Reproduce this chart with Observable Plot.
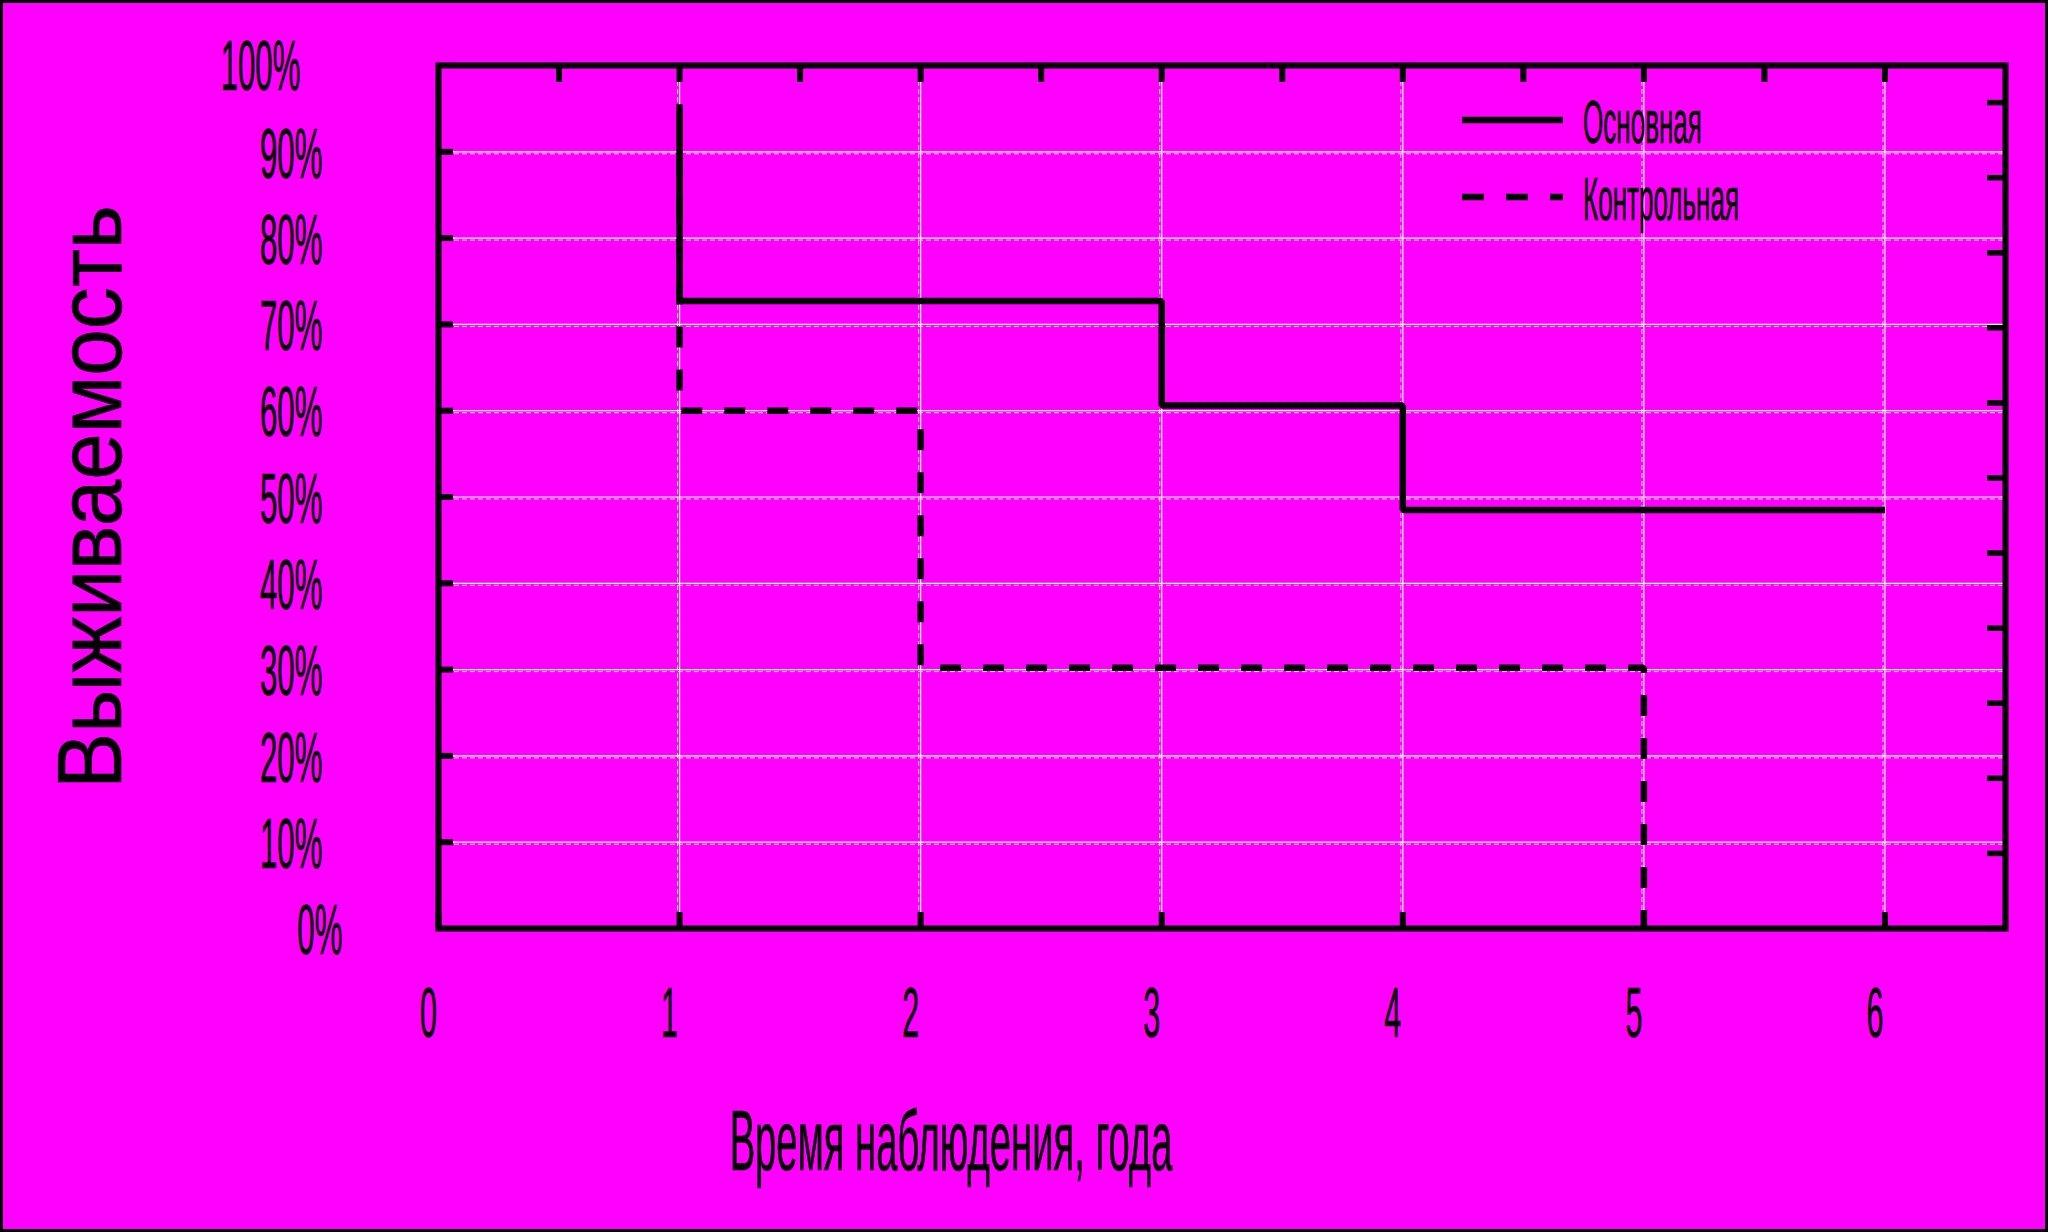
<!DOCTYPE html>
<html>
<head>
<meta charset="utf-8">
<script src="https://cdn.jsdelivr.net/npm/d3@7"></script>
<script src="https://cdn.jsdelivr.net/npm/@observablehq/plot@0.6"></script>
<style>
  html, body { margin: 0; padding: 0; background: #ff00ff; }
  #wrap { position: relative; width: 2048px; height: 1232px; overflow: hidden; }
  #wrap > svg.chart { display: block; outline: 3px solid #000; outline-offset: -3px; }
  #legend { position: absolute; left: 1450px; top: 80px; overflow: visible; }
</style>
</head>
<body>
<div id="wrap"></div>
<script>
// ---- data ----
const seriesNames = ["Основная", "Контрольная"];
const mainTime = [1, 1, 3, 4, 6];
const mainSurvival = [0.955, 0.727, 0.606, 0.485, 0.485];
const controlTime = [1, 1, 2, 5];
const controlSurvival = [0.897, 0.600, 0.302, 0.0];
const xTicks = [0, 1, 2, 3, 4, 5, 6];
const xTopTicks = [0.5, 1, 1.5, 2, 2.5, 3, 3.5, 4, 4.5, 5, 5.5, 6];
const xGrid = [1, 2, 3, 4, 5, 6];
const yTicks = [0, 0.1, 0.2, 0.3, 0.4, 0.5, 0.6, 0.7, 0.8, 0.9, 1];
const yGrid = [0.1, 0.2, 0.3, 0.4, 0.5, 0.6, 0.7, 0.8, 0.9];
const yRightTicks = [0, 0.087, 0.174, 0.261, 0.348, 0.435, 0.522, 0.609, 0.696, 0.783, 0.870, 0.957];
const xLabel = "Время наблюдения, года";
const yLabel = "Выживаемость";

const mainData = mainTime.map((t, i) => ({t, s: mainSurvival[i]}));
const controlData = controlTime.map((t, i) => ({t, s: controlSurvival[i]}));

const W = 2048, H = 1232, mL = 438, mR = 43, mT = 65, mB = 304;
const pw = W - mL - mR, ph = H - mT - mB;
const fmt = d3.format(".0%");
const font = "'Liberation Sans', Arial, sans-serif";

const chart = Plot.plot({
  width: W, height: H,
  marginLeft: mL, marginRight: mR, marginTop: mT, marginBottom: mB,
  x: {domain: [0, 6.5]},
  y: {domain: [0, 1]},
  style: {background: "#ff00ff", fontFamily: font, color: "black", overflow: "visible"},
  marks: [
    Plot.ruleX(xGrid, {stroke: "#d8d8d8", strokeWidth: 1, strokeDasharray: "5,3", dx: -2}),
    Plot.ruleX(xGrid, {stroke: "white", strokeWidth: 1.2}),
    Plot.ruleY(yGrid, {stroke: "#d8d8d8", strokeWidth: 1, strokeDasharray: "5,3", dy: 2}),
    Plot.ruleY(yGrid, {stroke: "white", strokeWidth: 1.2}),
    Plot.tickX(xTopTicks, {x: d => d, stroke: "black", strokeWidth: 6, insetBottom: ph - 17}),
    Plot.tickX(xTicks, {x: d => d, stroke: "black", strokeWidth: 6, insetTop: ph - 16}),
    Plot.tickY(yGrid, {y: d => d, stroke: "black", strokeWidth: 6, insetRight: pw - 15}),
    Plot.tickY(yRightTicks, {y: d => d, stroke: "black", strokeWidth: 5.5, insetLeft: pw - 18}),
    Plot.line(mainData, {x: "t", y: "s", curve: "step-after", stroke: "black", strokeWidth: 6.5, strokeLinejoin: "miter", strokeLinecap: "butt"}),
    Plot.line(controlData, {x: "t", y: "s", curve: "step-after", stroke: "black", strokeWidth: 6.5, strokeDasharray: "21,22", strokeLinejoin: "miter", strokeLinecap: "butt"}),
    Plot.frame({stroke: "black", strokeWidth: 6}),
    Plot.axisX(xTicks, {anchor: "bottom", tickSize: 0, tickPadding: 58, fontSize: 71, dx: -10, label: null, tickFormat: d => String(d)}),
    Plot.axisY(yTicks.filter(v => v > 0 && v < 1), {anchor: "left", tickSize: 0, tickPadding: 116, fontSize: 71, dy: 3, label: null, tickFormat: fmt}),
    Plot.axisY(yTicks.filter(v => v === 1), {anchor: "left", tickSize: 0, tickPadding: 138, fontSize: 71, dy: 2, label: null, tickFormat: fmt}),
    Plot.axisY(yTicks.filter(v => v === 0), {anchor: "left", tickSize: 0, tickPadding: 96, fontSize: 71, dy: 3, label: null, tickFormat: fmt}),
    Plot.text([xLabel], {frameAnchor: "bottom", textAnchor: "middle", dx: -271, dy: 241, fontSize: 86, fill: "black"}),
    Plot.text([yLabel], {frameAnchor: "left", textAnchor: "middle", dx: -347, rotate: -90, fontSize: 91, fill: "black"})
  ]
});
chart.classList.add("chart");

// condense the text horizontally, as in the reference
const addScale = (t, k) => {
  const tr = t.getAttribute("transform") || "";
  t.setAttribute("transform", `${tr} scale(${k},1)`);
  t.setAttribute("stroke", "black");
  t.setAttribute("stroke-width", 0.6);
};
chart.querySelectorAll('g[aria-label="x-axis tick label"] text').forEach(t => addScale(t, 0.43));
chart.querySelectorAll('g[aria-label="y-axis tick label"] text').forEach(t => addScale(t, 0.44));
chart.querySelectorAll("text").forEach(t => {
  if (t.textContent === xLabel) addScale(t, 0.444);
  if (t.textContent === yLabel) addScale(t, 0.92);
});
document.getElementById("wrap").appendChild(chart);

// legend overlay
const styles = [{dash: null, w: 6.5}, {dash: "22,22", w: 6.5}];
const leg = d3.select("#wrap").append("svg").attr("id", "legend").attr("width", 330).attr("height", 170);
seriesNames.forEach((name, i) => {
  const cy = 40 + i * 77;
  leg.append("line").attr("x1", 12).attr("x2", 113).attr("y1", cy).attr("y2", cy)
    .attr("stroke", "black").attr("stroke-width", styles[i].w)
    .attr("stroke-dasharray", styles[i].dash);
  leg.append("text").attr("transform", `translate(133,${cy + 23}) scale(0.42,1)`)
    .attr("font-family", font).attr("font-size", 62).attr("fill", "black")
    .attr("stroke", "black").attr("stroke-width", 0.6).text(name);
});
</script>
</body>
</html>
